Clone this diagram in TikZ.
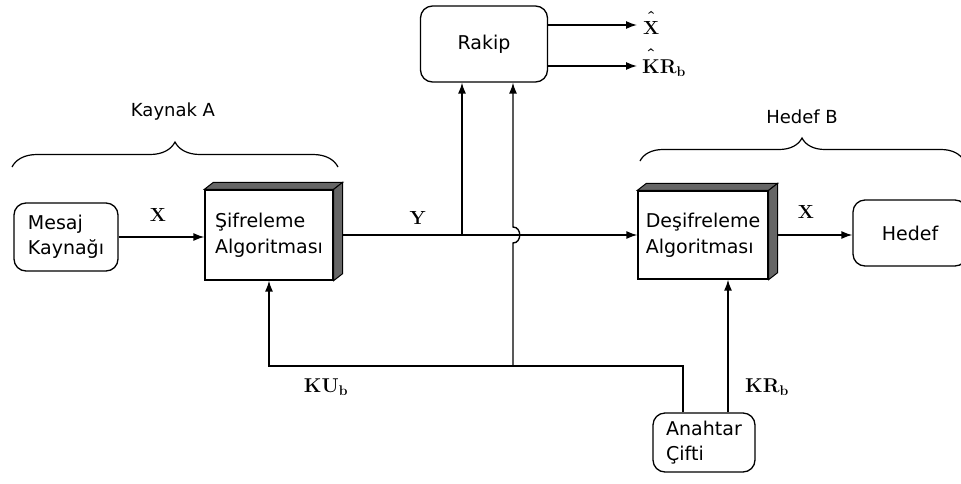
\RequirePackage{fix-cm}
\documentclass[tikz,border=0pt]{standalone}
\usepackage{fontspec}
\newfontfamily\boxfont{DejaVu Sans}
\usetikzlibrary{arrows.meta,calc,decorations.pathreplacing}

% dark top and right faces of a raised block
\newcommand\blockdepth[1]{%
  \filldraw[sideface] (#1.north west) -- ++(9,-7) -- ($(#1.north east)+(9,-7)$) -- (#1.north east) -- cycle;
  \filldraw[sideface] (#1.north east) -- ++(9,-7) -- ($(#1.south east)+(9,-7)$) -- (#1.south east) -- cycle;
}
% estimate symbol: bold hat set well above the letter
\newcommand\esthat[1]{\hat{#1\rule{0pt}{0.95em}}}

\tikzset{
  conn/.style={line width=1.4pt,-{Latex[length=11pt,width=8pt]}},
  roundbox/.style={draw,line width=1.3pt,rounded corners=12pt,align=left,
    font=\boxfont\fontsize{19}{25}\selectfont,inner sep=0pt},
  block/.style={draw,line width=1.3pt,fill=white,align=left,
    font=\boxfont\fontsize{19}{26}\selectfont,inner sep=0pt},
  sideface/.style={line width=1pt,fill=black!60},
  lbl/.style={font=\fontsize{19}{21}\selectfont\boldmath,inner sep=0pt},
  lblw/.style={font=\fontsize{20}{22}\selectfont\boldmath,inner sep=0pt},
  grp/.style={font=\boxfont\fontsize{18}{22}\selectfont,inner sep=0pt},
  brace/.style={line width=1.2pt,decorate,decoration={brace,amplitude=#1}},
}

\begin{document}
\begin{tikzpicture}[x=1pt,y=-1pt]
\useasboundingbox (0,0) rectangle (961,483);

% boxes
\node[roundbox,minimum width=104pt,minimum height=68pt] (mesaj) at (66,237) {Mesaj\\Kaynağı};
\node[block,minimum width=128pt,minimum height=90pt] (sifre) at (269,235) {Şifreleme\\Algoritması};
\node[roundbox,minimum width=127pt,minimum height=76pt] (rakip) at (484,44) {Rakip};
\node[block,minimum width=130pt,minimum height=88pt] (desifre) at (703,235) {Deşifreleme\\Algoritması};
\node[roundbox,minimum width=114pt,minimum height=66pt] (hedef) at (910,233) {Hedef};
\node[roundbox,minimum width=102pt,minimum height=59pt] (anahtar) at (704,442.5) {Anahtar\\Çifti};

\blockdepth{sifre}
\blockdepth{desifre}

% group braces
\draw[brace=25pt] (12,167) -- (338,167);
\node[grp] (kaynakA) at (173,112) {Kaynak A};
\draw[brace=23pt] (640,161) -- (964,161);
\node[grp] (hedefB) at (802,117) {Hedef B};

% message path
\draw[conn] (mesaj.east) -- (mesaj.east -| sifre.west);
\node[lbl] (xa) at (158,215) {$\mathbf{X}$};
\draw[conn] ($(sifre.east)+(9,0)$) -- (desifre.west);
\node[lbl] (ya) at (418,218) {$\mathbf{Y}$};
\draw[conn] ($(desifre.east)+(9,0)$) -- (desifre.east -| hedef.west);
\node[lbl] (xb) at (806,212) {$\mathbf{X}$};

% eavesdropper taps
\coordinate (j1) at (462,235);
\draw[conn] (j1) -- (j1 |- rakip.south);
\coordinate (k1) at (683,366);
\coordinate (k2) at (728,366);
\coordinate (hb) at (513,366);
\coordinate (hc) at (hb |- sifre.east);
\draw[conn] (hb) -- ($(hc)+(0,8)$) .. controls ($(hc)+(9,8)$) and ($(hc)+(9,-8)$) .. ($(hc)+(0,-8)$) -- (hb |- rakip.south);

% key distribution
\draw[conn] (anahtar.north -| k1) -- (k1) -- (k1 -| sifre.south) -- (sifre.south);
\draw[conn] (anahtar.north -| k2) -- (k2 |- desifre.south);
\node[lblw] (kub) at (326,387) {$\mathbf{KU_b}$};
\node[lblw] (krb) at (767,387) {$\mathbf{KR_b}$};

% eavesdropper outputs
\coordinate (o1) at (637,25);
\coordinate (o2) at (637,66);
\draw[conn] (rakip.east |- o1) -- (o1);
\draw[conn] (rakip.east |- o2) -- (o2);
\node[lbl,anchor=base west] (xhat) at (643,34) {$\esthat{\mathbf{X}}$};
\node[lblw,anchor=base west] (krhat) at (642,73) {$\esthat{\mathbf{K}}\mathbf{R_b}$};
\end{tikzpicture}
\end{document}
